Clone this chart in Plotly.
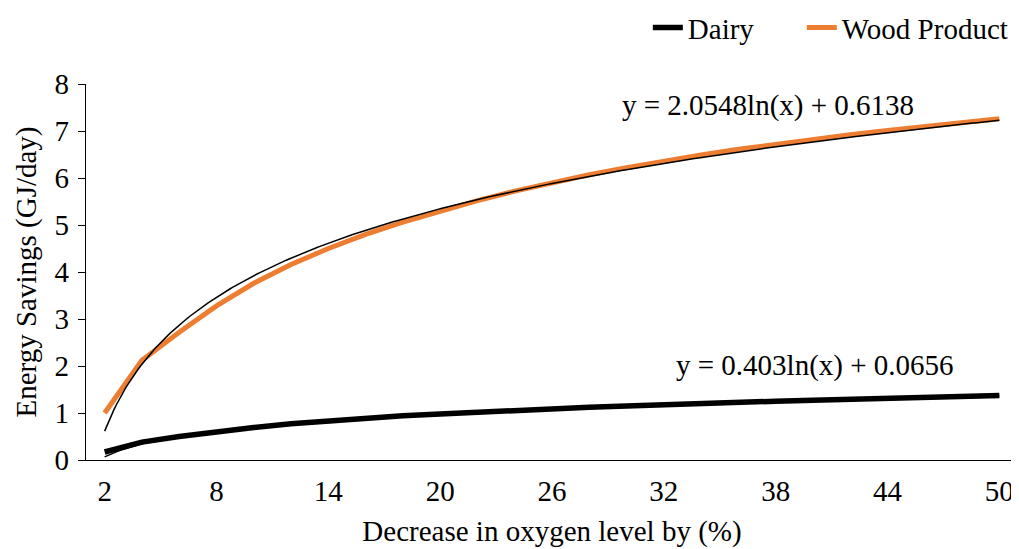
import numpy as np
import plotly.graph_objects as go

# Categories (decrease in oxygen level, %)
oxygen_decrease = list(range(2, 52, 2))

# Series values (GJ/day)
dairy = [0.17, 0.38, 0.50, 0.60, 0.69, 0.77, 0.83, 0.89, 0.94, 0.98,
         1.02, 1.06, 1.09, 1.12, 1.15, 1.18, 1.20, 1.23, 1.25, 1.27,
         1.29, 1.31, 1.33, 1.35, 1.37]
wood_product = [1.00, 2.12, 2.72, 3.28, 3.76, 4.16, 4.50, 4.80, 5.06, 5.30,
                5.52, 5.72, 5.90, 6.07, 6.22, 6.36, 6.49, 6.61, 6.72, 6.82,
                6.92, 7.01, 7.10, 7.18, 7.26]

# Logarithmic trendline coefficients shown on the chart (x = category index)
dairy_trend = (0.403, 0.0656)
wood_trend = (2.0548, 0.6138)

y_ticks = [0, 1, 2, 3, 4, 5, 6, 7, 8]
x_ticks = [2, 8, 14, 20, 26, 32, 38, 44, 50]

FONT = "Liberation Serif"
FS = 29
ORANGE = "#ED7D31"

step = oxygen_decrease[1] - oxygen_decrease[0]
xd = np.linspace(oxygen_decrease[0], oxygen_decrease[-1], 400)
idx = xd / step  # Excel category index 1..25


def trend(coef):
    a, b = coef
    return a * np.log(idx) + b


fig = go.Figure()
fig.add_trace(go.Scatter(x=oxygen_decrease, y=dairy, mode="lines", name="Dairy",
                         legend="legend", line=dict(color="black", width=5.5)))
fig.add_trace(go.Scatter(x=oxygen_decrease, y=wood_product, mode="lines", name="Wood Product",
                         legend="legend2", line=dict(color=ORANGE, width=5)))
fig.add_trace(go.Scatter(x=xd, y=trend(dairy_trend), mode="lines", showlegend=False,
                         line=dict(color="black", width=1.5), hoverinfo="skip"))
fig.add_trace(go.Scatter(x=xd, y=trend(wood_trend), mode="lines", showlegend=False,
                         line=dict(color="black", width=1.5), hoverinfo="skip"))


def label(coef):
    a, b = coef
    return f"y = {a:g}ln(x) + {b:g}"


fig.add_annotation(x=37.6, y=7.55, xref="x", yref="y", text=label(wood_trend),
                   showarrow=False, font=dict(family=FONT, size=FS, color="black"))
fig.add_annotation(x=40.1, y=2.02, xref="x", yref="y", text=label(dairy_trend),
                   showarrow=False, font=dict(family=FONT, size=FS, color="black"))

legend_common = dict(orientation="h", xanchor="right", y=1.15, yanchor="middle",
                     font=dict(family=FONT, size=FS, color="black"),
                     bgcolor="rgba(0,0,0,0)")

fig.update_layout(
    width=1011, height=541,
    margin=dict(l=78, r=1, t=76, b=89, autoexpand=False),
    paper_bgcolor="white", plot_bgcolor="white",
    font=dict(family=FONT, size=FS, color="black"),
    showlegend=True,
    legend=dict(x=0.723, **legend_common),
    legend2=dict(x=0.9955, **legend_common),
    xaxis=dict(range=[1, 51], tickmode="array", tickvals=x_ticks,
               ticktext=[str(v) for v in x_ticks], showgrid=False, zeroline=False,
               showline=True, linecolor="black", linewidth=1.3, ticks="",
               ticklabelstandoff=5, tickfont=dict(family=FONT, size=FS),
               title=dict(text="Decrease in oxygen level by (%)", standoff=14,
                          font=dict(family=FONT, size=FS))),
    yaxis=dict(range=[0, 8], tickmode="array", tickvals=y_ticks, showgrid=False,
               zeroline=False, showline=True, linecolor="black", linewidth=1.3,
               ticks="outside", ticklen=7, tickcolor="black", ticklabelstandoff=3,
               tickfont=dict(family=FONT, size=FS),
               title=dict(text="Energy Savings (GJ/day)", standoff=9,
                          font=dict(family=FONT, size=FS))),
)

fig.write_html("out.html")
